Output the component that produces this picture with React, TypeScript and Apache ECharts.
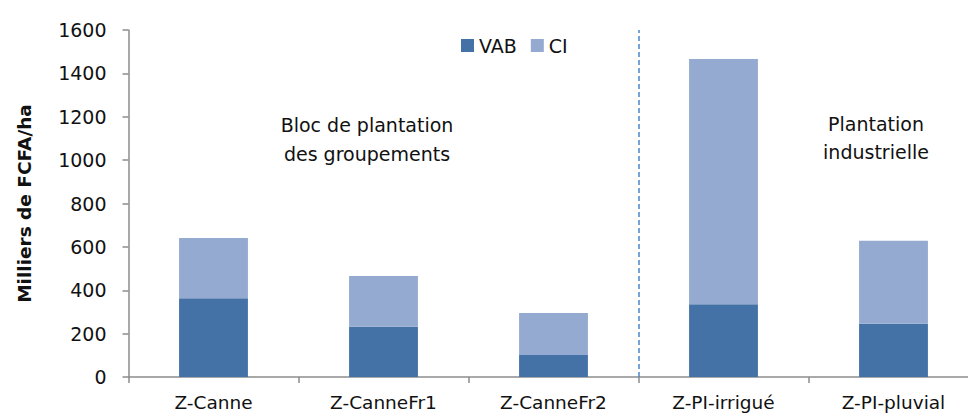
import React, { useEffect, useRef } from "react";
import * as echarts from "echarts";

const categories = ["Z-Canne", "Z-CanneFr1", "Z-CanneFr2", "Z-PI-irrigué", "Z-PI-pluvial"];
const vabValues = [363, 232, 101, 335, 246];
const ciValues = [278, 234, 194, 1131, 382];
const yTicks = [0, 200, 400, 600, 800, 1000, 1200, 1400, 1600];
const separatorPosition = 2.5;
const groupLabels = ["Bloc de plantation\ndes groupements", "Plantation\nindustrielle"];

const FONT = "'DejaVu Sans', sans-serif";

export default function App() {
  const ref = useRef<HTMLDivElement>(null);
  useEffect(() => {
    document.body.style.margin = "0";
    const chart = echarts.init(ref.current!, null, { renderer: "svg" });
    chart.setOption({
      animation: false,
      textStyle: { fontFamily: FONT },
      legend: {
        data: ["VAB", "CI"],
        left: 456,
        top: 31,
        itemWidth: 13,
        itemHeight: 13,
        itemGap: 14,
        icon: "rect",
        textStyle: { fontSize: 19, color: "#111", fontFamily: FONT, padding: [0, 0, 0, 0] },
      },
      grid: {
        left: 128.5,
        top: 30,
        bottom: 40,
        width: 850,
        containLabel: false,
        outerBoundsMode: "none",
      },
      xAxis: [
        {
          type: "category",
          data: categories,
          axisLine: { lineStyle: { color: "#8c8c8c", width: 1.5 } },
          axisTick: { show: true, length: 6, lineStyle: { color: "#8c8c8c", width: 1.5 } },
          axisLabel: { fontSize: 18.5, color: "#111", margin: 16, fontFamily: FONT },
        },
        {
          type: "value",
          min: -0.5,
          max: 4.5,
          show: false,
        },
      ],
      yAxis: {
        type: "value",
        min: yTicks[0],
        max: yTicks[yTicks.length - 1],
        interval: 200,
        name: "Milliers de FCFA/ha",
        nameLocation: "middle",
        nameGap: 95,
        nameTextStyle: { fontSize: 18.5, fontWeight: "bold", color: "#111", fontFamily: FONT },
        axisLine: { show: true, onZero: false, lineStyle: { color: "#8c8c8c", width: 1.5 } },
        axisTick: { show: true, length: 6, lineStyle: { color: "#8c8c8c", width: 1.5 } },
        splitLine: { show: false },
        axisLabel: {
          fontSize: 19,
          color: "#111",
          margin: 22,
          fontFamily: FONT,
          formatter: (v: number) => String(v),
        },
      },
      series: [
        {
          name: "VAB",
          type: "bar",
          stack: "total",
          data: vabValues,
          barWidth: "40.5%",
          itemStyle: { color: "#4472a6" },
        },
        {
          name: "CI",
          type: "bar",
          stack: "total",
          data: ciValues,
          barWidth: "40.5%",
          itemStyle: { color: "#95aad0" },
        },
        {
          name: "sep",
          type: "line",
          xAxisIndex: 1,
          data: [],
          markLine: {
            symbol: "none",
            silent: true,
            label: { show: false },
            lineStyle: { color: "#4a86c8", type: [5, 3], width: 1.5 },
            data: [{ xAxis: separatorPosition }],
          },
        },
      ],
      graphic: [
        {
          type: "text",
          x: 367,
          y: 110,
          style: {
            text: groupLabels[0],
            fontSize: 19,
            fontFamily: FONT,
            fill: "#111",
            align: "center",
            verticalAlign: "top",
            lineHeight: 29,
          },
        },
        {
          type: "text",
          x: 876,
          y: 110,
          style: {
            text: groupLabels[1],
            fontSize: 19,
            fontFamily: FONT,
            fill: "#111",
            align: "center",
            verticalAlign: "top",
            lineHeight: 28,
          },
        },
      ],
    });
    return () => chart.dispose();
  }, []);
  return <div ref={ref} style={{ width: 968, height: 417 }} />;
}
